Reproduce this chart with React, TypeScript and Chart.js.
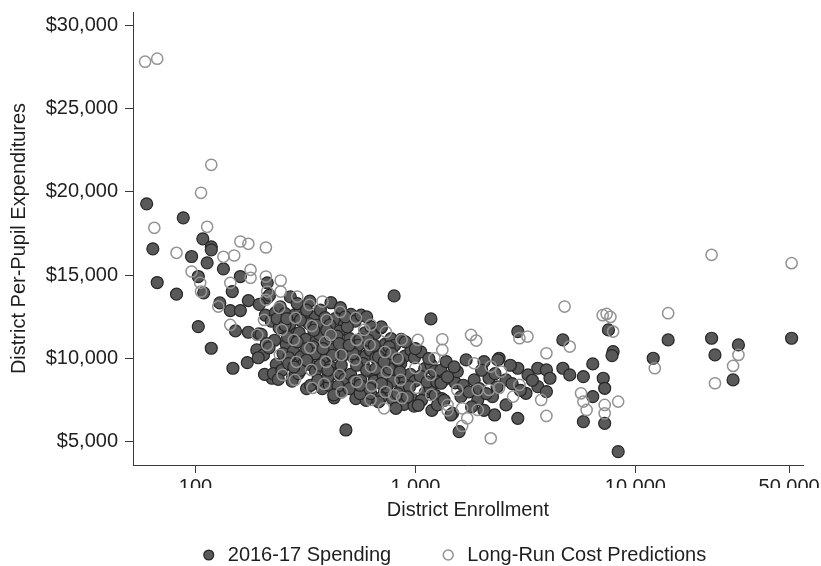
import React, { useEffect, useRef } from 'react';
import { Chart, registerables } from 'chart.js';

Chart.register(...registerables);

const xTickValues = [100, 1000, 10000, 50000];
const yTickValues = [5000, 10000, 15000, 20000, 25000, 30000];
const seriesLabels = ['2016-17 Spending', 'Long-Run Cost Predictions'];
const xAxisTitle = 'District Enrollment';
const yAxisTitle = 'District Per-Pupil Expenditures';

// [district enrollment, per-pupil dollars]
const spendingSmall: [number, number][] = [
  [60, 19280], [88, 18440], [108, 17180], [118, 16700], [64, 16580], [118, 16520], [96, 16120],
  [113, 15740], [134, 15380], [103, 14920], [160, 14920], [67, 14560], [212, 14540], [109, 13940],
  [82, 13860], [147, 14020], [129, 13340], [174, 13480], [212, 13640], [144, 12880], [160, 12880],
  [103, 11920], [152, 11660], [174, 11580], [194, 11480], [118, 10620], [190, 10520], [204, 10220],
  [148, 9420], [172, 9760], [223, 8820], [276, 8820],
];

const spendingCore: [number, number][] = [
  [195, 13250], [208, 12600], [199, 11450], [210, 10900], [193, 10050], [206, 9050],
  [217, 13800], [231, 12750], [221, 12250], [229, 11100], [216, 10650], [233, 9650], [226, 9100],
  [243, 13100], [256, 12700], [240, 11850], [259, 10850], [250, 10300], [247, 9300], [238, 8750],
  [270, 13700], [285, 12650], [268, 12050], [288, 11500], [279, 10450], [266, 10050], [285, 9050], [275, 8650],
  [299, 13000], [315, 12600], [296, 11550], [317, 11150], [302, 10100], [311, 9700], [294, 9100], [320, 8200],
  [331, 13450], [350, 12500], [328, 12100], [354, 11050], [343, 10700], [330, 9650], [351, 9250], [334, 8400],
  [370, 12900], [388, 12450], [366, 11450], [392, 11000], [381, 10000], [368, 9600], [394, 8550], [377, 8200],
  [413, 13350], [432, 12400], [408, 12000], [436, 10950], [424, 10550], [411, 9500], [433, 9100], [406, 8400], [427, 7650],
  [456, 13050], [476, 12050], [452, 11650], [481, 10600], [469, 10200], [455, 9150], [478, 8750], [461, 8000],
  [509, 12650], [532, 12250], [503, 11200], [535, 10500], [522, 10100], [507, 9050], [527, 8650], [536, 7600],
  [566, 12600], [590, 11550], [560, 11150], [595, 10150], [579, 9700], [564, 8700], [586, 8250], [597, 7500],
  [628, 11900], [655, 11500], [624, 10500], [660, 10050], [643, 9050], [650, 8650], [627, 7900],
  [698, 11850], [726, 10850], [693, 10400], [730, 9400], [714, 9000], [722, 7950], [696, 7650],
  [774, 11200], [805, 10800], [768, 10050], [809, 9050], [794, 8650], [786, 7600],
  [861, 11150], [895, 10150], [857, 9700], [900, 8700], [868, 8250], [888, 7250],
  [955, 10500], [990, 10050], [948, 9050], [995, 8650], [962, 7600], [986, 7150],
  [1058, 10400], [1102, 9400], [1052, 8950], [1108, 7950], [1066, 7500],
  [1176, 9650], [1222, 9250], [1170, 8200], [1230, 7800], [1188, 6900],
  [1305, 9300], [1360, 8750], [1318, 7600],
  [235, 12400], [262, 11300], [290, 13300], [320, 12900], [355, 12000], [395, 11700], [440, 11350],
  [490, 11900], [550, 10800], [610, 11100], [680, 10100], [760, 9400], [850, 9200], [940, 8300],
  [1130, 8600], [265, 9700], [300, 9300], [360, 8700], [400, 8900], [445, 8350], [500, 8200],
  [560, 7900], [620, 8200], [680, 7400], [740, 8300], [830, 7900], [920, 7700], [1030, 7200],
  [1250, 8600], [1150, 10000], [1000, 10600], [900, 11000], [300, 12300], [255, 12000], [480, 12500],
  [600, 12500], [700, 11900], [420, 10200], [350, 10300], [520, 10300], [650, 10800], [760, 10700],
  [290, 11000], [320, 10600], [345, 11700], [380, 10600], [410, 11400], [450, 10900], [500, 10800],
  [540, 9600], [600, 9300], [660, 9400], [720, 9800], [780, 10300], [840, 9900], [320, 9900],
  [280, 9500], [260, 12400], [400, 9300], [460, 9600], [560, 8400], [700, 8500],
];

const spendingLarge: [number, number][] = [
  [800, 13760], [1176, 12380], [1380, 9820], [1306, 8520], [1520, 8540], [1475, 6720], [483, 5720],
  [815, 7020], [1260, 7220], [425, 7820],
  [1700, 9920], [2050, 9820], [2400, 10020], [2920, 9420], [3600, 9420], [3940, 9320], [4680, 9420],
  [5030, 9020], [5800, 8920], [6400, 9680], [7140, 8820], [7250, 8220], [1550, 9220], [1850, 8720],
  [2160, 8820], [2580, 8720], [3250, 9020], [4090, 8820], [3600, 8320], [3180, 7920], [3940, 8020],
  [1610, 7720], [1920, 7520], [2240, 7720], [2580, 7220], [1450, 6620], [2290, 6620], [2920, 6420],
  [1580, 5620], [5800, 6220], [7250, 6120], [8350, 4420], [6400, 7720], [2920, 11620], [4680, 11120],
  [7540, 11720], [7920, 10420], [7830, 10180], [2370, 9920],
  [1400, 8900], [1500, 9500], [1650, 8400], [1750, 8000], [1800, 7100], [1950, 8200], [2000, 9300],
  [2100, 7900], [2300, 9100], [2350, 8300], [1350, 7500], [2050, 6900], [2700, 9600], [2750, 8500],
  [3400, 8700], [3000, 8100],
  [14090, 11120], [12050, 10020], [22200, 11220], [23000, 10220], [29400, 10820], [27800, 8720], [51300, 11220],
];

const predictionSmall: [number, number][] = [
  [59, 27800], [67, 27980], [118, 21620], [106, 19940], [65, 17840], [113, 17900], [160, 17020],
  [174, 16880], [209, 16660], [82, 16340], [134, 16100], [150, 16180], [96, 15220], [178, 15320],
  [209, 14920], [244, 14680], [290, 13720], [106, 14020], [144, 14540], [105, 14540], [244, 14020],
  [127, 13120], [212, 14020], [191, 11420], [144, 12020], [178, 14840],
];

const predictionCore: [number, number][] = [
  [209, 13520], [205, 12320], [212, 10820],
  [240, 13040], [247, 11720], [242, 10220], [249, 9020],
  [285, 12440], [280, 11120], [288, 9800], [283, 8720],
  [330, 13220], [338, 11960], [332, 10640], [336, 9320], [340, 8240],
  [378, 13420], [395, 12320], [388, 11000], [392, 9800], [385, 8480],
  [455, 12800], [412, 11420], [460, 10220], [452, 9020], [462, 7980],
  [536, 12440], [585, 11720], [530, 9920], [540, 8600], [540, 11120],
  [627, 12020], [620, 10820], [627, 9520], [632, 8360], [625, 7520],
  [734, 11600], [728, 10400], [740, 9200], [720, 7020], [730, 8000],
  [829, 10020], [865, 11120], [855, 8720], [800, 7800], [870, 7640],
  [1026, 11120], [1000, 9440], [1010, 8240],
  [1220, 10020], [1170, 9020], [1180, 7820],
];

const predictionLarge: [number, number][] = [
  [1325, 11160], [1325, 10520], [1790, 11420], [1890, 11080], [2970, 11220], [3230, 11320],
  [4764, 13120], [7100, 12600], [7400, 12680], [7700, 12500], [7920, 11620], [5030, 10720],
  [3940, 10320], [5660, 7920], [5800, 7420], [6000, 6920], [7250, 7220], [7250, 6720], [8350, 7420],
  [3940, 6560], [2200, 5220], [1720, 6420], [1630, 5960], [2160, 8120], [2400, 8240], [2780, 7720],
  [3730, 7520], [2970, 8420], [2450, 9220], [1850, 9720], [2200, 9520], [1920, 8120], [1550, 8120],
  [1400, 7220], [1630, 7020], [1920, 6920], [1400, 6900],
  [22200, 16220], [51300, 15720], [14090, 12720], [12250, 9420], [29400, 10220], [27800, 9560], [23000, 8520],
];

const spending2016 = [...spendingSmall, ...spendingCore, ...spendingLarge];
const longRunPredictions = [...predictionSmall, ...predictionCore, ...predictionLarge];

const FONT_FAMILY = '"Liberation Sans", Arial, Helvetica, sans-serif';

export default function App() {
  const canvasRef = useRef<HTMLCanvasElement | null>(null);

  useEffect(() => {
    const canvas = canvasRef.current;
    if (!canvas) return;
    const font = { family: FONT_FAMILY, size: 20 };
    const textColor = '#1e1e1e';
    const axisColor = '#3a3a3a';

    const legendShift = {
      id: 'legendShift',
      afterLayout(chart: any) {
        const lg = chart.legend;
        if (!lg) return;
        lg.left -= 15;
        lg.right -= 15;
        lg.top += 9;
        lg.bottom += 9;
      },
    };

    const chart = new Chart(canvas, {
      type: 'scatter',
      data: {
        datasets: [
          {
            label: seriesLabels[0],
            data: spending2016.map(([x, y]) => ({ x, y })),
            backgroundColor: '#595959',
            borderColor: '#262626',
            borderWidth: 1.2,
            pointRadius: 6,
            pointHoverRadius: 6,
            order: 2,
          },
          {
            label: seriesLabels[1],
            data: longRunPredictions.map(([x, y]) => ({ x, y })),
            backgroundColor: 'rgba(255,255,255,0)',
            borderColor: '#939393',
            borderWidth: 1.5,
            pointRadius: 5.6,
            pointHoverRadius: 5.6,
            order: 1,
          },
        ],
      },
      options: {
        responsive: false,
        animation: false,
        devicePixelRatio: 1,
        events: [],
        layout: { padding: { top: 12, right: 18, bottom: 0, left: 0 } },
        scales: {
          x: {
            type: 'logarithmic',
            min: 52,
            max: 57800,
            afterBuildTicks: (scale: any) => {
              scale.ticks = xTickValues.map((v) => ({ value: v }));
            },
            afterFit: (scale: any) => {
              scale.height = 23;
              scale.paddingLeft = 0;
              scale.paddingRight = 0;
            },
            ticks: {
              autoSkip: false,
              maxRotation: 0,
              padding: 2.5,
              color: textColor,
              font,
              callback: (v: any) => Number(v).toLocaleString('en-US'),
            },
            grid: {
              display: true,
              drawOnChartArea: false,
              drawTicks: true,
              tickLength: 8,
              color: axisColor,
              lineWidth: 1,
            },
            border: { display: true, color: axisColor, width: 1 },
            title: {
              display: true,
              text: xAxisTitle,
              color: textColor,
              font,
              padding: { top: 0, bottom: -34.5 },
            },
          },
          y: {
            type: 'linear',
            min: 3620,
            max: 30780,
            afterBuildTicks: (scale: any) => {
              scale.ticks = yTickValues.map((v) => ({ value: v }));
            },
            afterFit: (scale: any) => {
              scale.width = 133;
              scale.paddingTop = 0;
              scale.paddingBottom = 0;
            },
            ticks: {
              autoSkip: false,
              padding: 7,
              color: textColor,
              font,
              callback: (v: any) => '$' + Number(v).toLocaleString('en-US'),
            },
            grid: {
              display: true,
              drawOnChartArea: false,
              drawTicks: true,
              tickLength: 8,
              color: axisColor,
              lineWidth: 1,
            },
            border: { display: true, color: axisColor, width: 1 },
            title: {
              display: true,
              text: yAxisTitle,
              color: textColor,
              font,
              padding: { top: 7, bottom: 0 },
            },
          },
        },
        plugins: {
          tooltip: { enabled: false },
          legend: {
            display: true,
            position: 'bottom',
            fullSize: false,
            labels: {
              usePointStyle: true,
              pointStyle: 'circle',
              boxWidth: 18,
              boxHeight: 7,
              padding: 48,
              color: textColor,
              font,
              sort: (a: any, b: any) => a.datasetIndex - b.datasetIndex,
            },
          },
        },
      },
      plugins: [legendShift],
    } as any);

    return () => chart.destroy();
  }, []);

  return (
    <div style={{ position: 'fixed', left: 0, top: 0, width: 821, height: 566, background: '#ffffff' }}>
      <canvas ref={canvasRef} width={821} height={566} style={{ display: 'block' }} />
    </div>
  );
}
